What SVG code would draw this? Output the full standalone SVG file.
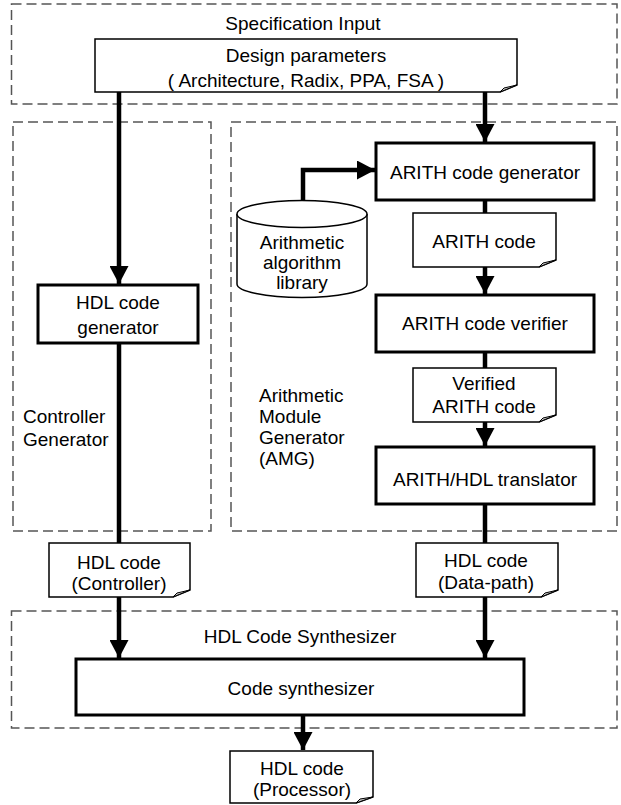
<svg xmlns="http://www.w3.org/2000/svg" width="621" height="805" viewBox="0 0 621 805">
<style>
text{font-family:"Liberation Sans",Arial,sans-serif;font-size:19px;fill:#000}
.c{text-anchor:middle}
.grp{fill:none;stroke:#555;stroke-width:1.5;stroke-dasharray:10 5}
.box{fill:#fff;stroke:#000;stroke-width:3}
.doc{fill:#fff;stroke:#000;stroke-width:1.5}
.fold{fill:#ccc;stroke:#000;stroke-width:1}
.line{fill:none;stroke:#000;stroke-width:4.5}
</style>
<defs>
<marker id="ah" markerUnits="userSpaceOnUse" markerWidth="18" markerHeight="19" viewBox="0 0 18 19" refX="18" refY="9.5" orient="auto">
<path d="M0,0 L18,9.5 L0,19 Z" fill="#000"/>
</marker>
</defs>

<g id="spec-input">
<rect class="grp" x="11.5" y="4" width="605.5" height="100"/>
<text class="c" x="303" y="30">Specification Input</text>
</g>
<g id="controller-generator">
<rect class="grp" x="13" y="122" width="198" height="409"/>
<text x="23" y="423">Controller</text>
<text x="23" y="446">Generator</text>
</g>
<g id="amg">
<rect class="grp" x="231" y="122" width="386" height="409"/>
<text x="259" y="402">Arithmetic</text>
<text x="259" y="423">Module</text>
<text x="259" y="444">Generator</text>
<text x="259" y="465">(AMG)</text>
</g>
<g id="hdl-code-synthesizer">
<rect class="grp" x="11.5" y="611" width="605.5" height="117"/>
<text class="c" x="300" y="643">HDL Code Synthesizer</text>
</g>

<g id="connectors">
<path class="line" d="M119,92 V284" marker-end="url(#ah)"/>
<path class="line" d="M485,92 V142" marker-end="url(#ah)"/>
<path class="line" d="M303,214 V170 H375" marker-end="url(#ah)"/>
<path class="line" d="M485,200 V213"/>
<path class="line" d="M485,267 V294" marker-end="url(#ah)"/>
<path class="line" d="M485,352 V368"/>
<path class="line" d="M485,422 V446" marker-end="url(#ah)"/>
<path class="line" d="M485,504 V543"/>
<path class="line" d="M119,343 V543"/>
<path class="line" d="M119,597 V658" marker-end="url(#ah)"/>
<path class="line" d="M485,597 V658" marker-end="url(#ah)"/>
<path class="line" d="M303,715 V750" marker-end="url(#ah)"/>
</g>

<g id="design-parameters">
<path class="doc" d="M95,39 H517 V85 L500,92 H95 Z"/>
<path class="fold" d="M500,92 L504,88 L517,85 Z"/>
<text class="c" x="306" y="62">Design parameters</text>
<text class="c" x="306" y="87">( Architecture, Radix, PPA, FSA )</text>
</g>

<g id="hdl-code-generator">
<rect class="box" x="38" y="285" width="160" height="58"/>
<text class="c" x="118" y="309">HDL code</text>
<text class="c" x="118" y="334">generator</text>
</g>

<g id="arith-code-generator">
<rect class="box" x="376" y="143" width="218" height="57"/>
<text class="c" x="485" y="179">ARITH code generator</text>
</g>

<g id="arith-library">
<path class="doc" d="M237,214 V284 A65,13.5 0 0 0 367,284 V214"/>
<ellipse class="doc" cx="302" cy="214" rx="65" ry="13.5"/>
<text class="c" x="302" y="249">Arithmetic</text>
<text class="c" x="302" y="269">algorithm</text>
<text class="c" x="302" y="289">library</text>
</g>

<g id="arith-code">
<path class="doc" d="M413,213 H556 V260 L539,267 H413 Z"/>
<path class="fold" d="M539,267 L543,263 L556,260 Z"/>
<text class="c" x="484" y="248">ARITH code</text>
</g>

<g id="arith-code-verifier">
<rect class="box" x="376" y="295" width="218" height="57"/>
<text class="c" x="485" y="330">ARITH code verifier</text>
</g>

<g id="verified-arith-code">
<path class="doc" d="M413,368 H556 V415 L539,422 H413 Z"/>
<path class="fold" d="M539,422 L543,418 L556,415 Z"/>
<text class="c" x="484" y="390">Verified</text>
<text class="c" x="484" y="413">ARITH code</text>
</g>

<g id="arith-hdl-translator">
<rect class="box" x="376" y="447" width="218" height="57"/>
<text class="c" x="485" y="486">ARITH/HDL translator</text>
</g>

<g id="hdl-code-controller">
<path class="doc" d="M49,543 H190 V590 L173,597 H49 Z"/>
<path class="fold" d="M173,597 L177,593 L190,590 Z"/>
<text class="c" x="119" y="569">HDL code</text>
<text class="c" x="119" y="590">(Controller)</text>
</g>

<g id="hdl-code-datapath">
<path class="doc" d="M416,543 H558 V590 L541,597 H416 Z"/>
<path class="fold" d="M541,597 L545,593 L558,590 Z"/>
<text class="c" x="486" y="567">HDL code</text>
<text class="c" x="486" y="589">(Data-path)</text>
</g>

<g id="code-synthesizer">
<rect class="box" x="76" y="659" width="448" height="56"/>
<text class="c" x="301" y="695">Code synthesizer</text>
</g>

<g id="hdl-code-processor">
<path class="doc" d="M230,751 H373 V797 L356,803 H230 Z"/>
<path class="fold" d="M356,803 L360,799 L373,797 Z"/>
<text class="c" x="302" y="775">HDL code</text>
<text class="c" x="302" y="796">(Processor)</text>
</g>
</svg>
